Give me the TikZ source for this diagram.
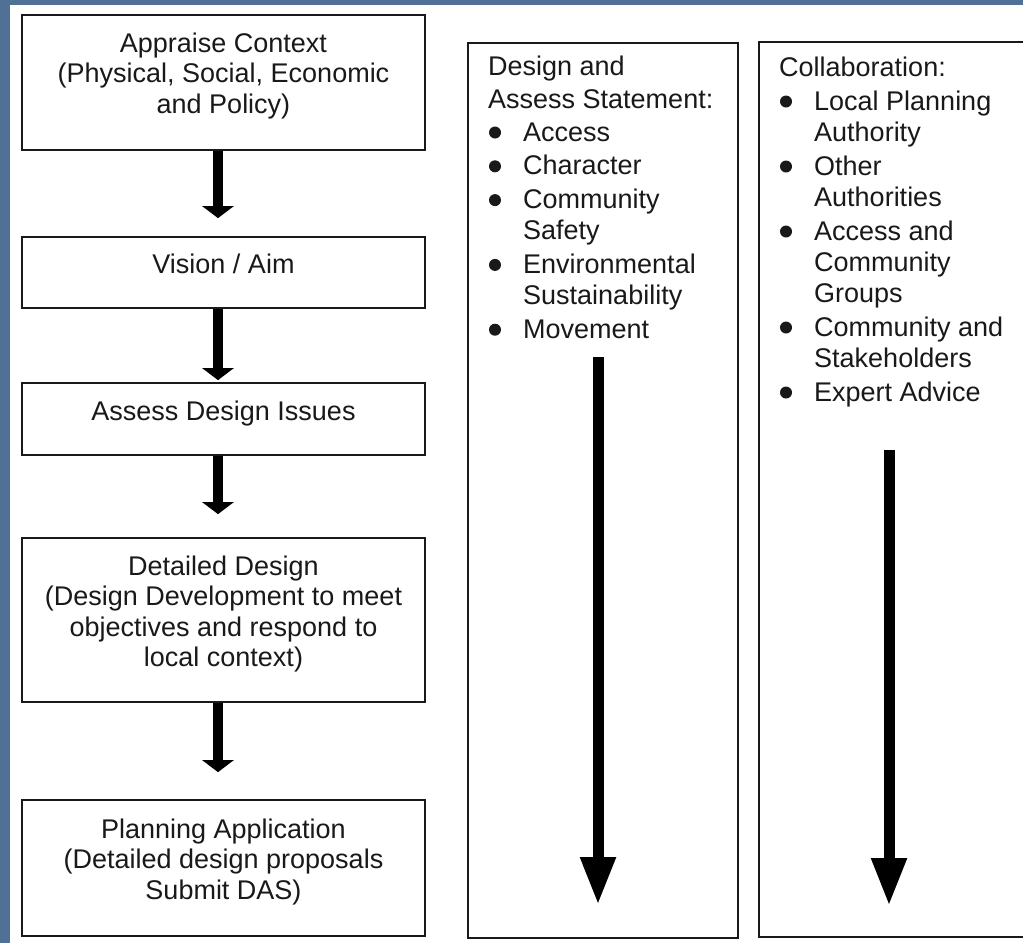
\documentclass[tikz,border=0pt]{standalone}
\usepackage{fontspec}
\setmainfont{Liberation Sans}
\usetikzlibrary{arrows.meta}
\definecolor{frameblue}{RGB}{80,112,150}
\definecolor{ink}{RGB}{25,25,25}
% hanging indent for the list columns (the bullets are drawn as dots)
\newcommand\hangline{\hspace*{35pt}}
\newcommand\stagefont{\fontsize{27}{30.6}\selectfont}
\newcommand\colfont{\fontsize{27}{31}\selectfont}
\begin{document}
\begin{tikzpicture}[x=1pt,y=-1pt,
  stagebox/.style={draw=ink, line width=1.7pt, minimum width=403pt, inner sep=0pt},
  colbox/.style={draw=ink, line width=1.7pt, inner sep=0pt},
  stagetext/.style={anchor=base, inner sep=0pt, text=ink},
  coltext/.style={anchor=base west, inner sep=0pt, text=ink},
  listdot/.style={fill=ink},
  flowarrow/.style={draw=black, line width=10pt, -{Triangle[width=31pt,length=12pt]}},
  longarrow/.style={draw=black, line width=11pt, -{Triangle[width=33pt,length=48pt]}}]
\useasboundingbox (0,0) rectangle (1023,943);
% page background with blue frame on the left and top
\fill[frameblue] (0,0) rectangle (1023,943);
\fill[white] (10,5) rectangle (1023,943);
\clip (0,0) rectangle (1023,943);

% process stages on the left
\node[stagebox, minimum height=135pt] (b1) at (223.5,82.5) {};
\node[stagebox, minimum height=71pt]  (b2) at (223.5,272.5) {};
\node[stagebox, minimum height=72pt]  (b3) at (223.5,419) {};
\node[stagebox, minimum height=164pt] (b4) at (223.5,620) {};
\node[stagebox, minimum height=136pt] (b5) at (223.5,868) {};

\node[stagetext] (t1) at (223.5,52) {\parbox[t]{395pt}{\stagefont\centering Appraise Context\\(Physical, Social, Economic\\and Policy)}};
\node[stagetext] (t2) at (223.5,273) {\parbox[t]{395pt}{\stagefont\centering Vision / Aim}};
\node[stagetext] (t3) at (223.5,420) {\parbox[t]{395pt}{\stagefont\centering Assess Design Issues}};
\node[stagetext] (t4) at (223.5,575) {\parbox[t]{395pt}{\stagefont\centering Detailed Design\\(Design Development to meet\\objectives and respond to\\local context)}};
\node[stagetext] (t5) at (223.5,838) {\parbox[t]{395pt}{\stagefont\centering Planning Application\\(Detailed design proposals\\Submit DAS)}};

% arrows between stages
\draw[flowarrow] ([xshift=-5.5pt]b1.south) -- ([xshift=-5.5pt,yshift=18pt]b2.north);
\draw[flowarrow] ([xshift=-5.5pt]b2.south) -- ([xshift=-5.5pt,yshift=2pt]b3.north);
\draw[flowarrow] ([xshift=-5.5pt]b3.south) -- ([xshift=-5.5pt,yshift=23pt]b4.north);
\draw[flowarrow] ([xshift=-5.5pt]b4.south) -- ([xshift=-5.5pt,yshift=27pt]b5.north);

% design and access statement column
\node[colbox, minimum width=270pt, minimum height=895pt] (das) at (603,490.5) {};
\node[coltext] (dastext) at (488,75.7) {\parbox[t]{245pt}{\colfont\raggedright
Design and\\[1.6pt]
Assess Statement:\\[1.7pt]
\hangline Access\\[2.8pt]
\hangline Character\\[2.8pt]
\hangline Community\\
\hangline Safety\\[2.8pt]
\hangline Environmental\\
\hangline Sustainability\\[2.8pt]
\hangline Movement}};
\foreach \by in {141,174.8,208.6,273.4,338.2}
  \fill[listdot] (495,\by-8.5) circle[radius=6pt];
\coordinate (dastop) at (598,357);
\coordinate (dasbottom) at (598,905);
\draw[longarrow] (dastop) -- (dasbottom);

% collaboration column
\node[colbox, minimum width=281pt, minimum height=895pt] (collab) at (899.5,489.5) {};
\node[coltext] (collabtext) at (779,76) {\parbox[t]{245pt}{\colfont\raggedright
Collaboration:\\[3pt]
\hangline Local Planning\\
\hangline Authority\\[3pt]
\hangline Other\\
\hangline Authorities\\[3pt]
\hangline Access and\\
\hangline Community\\
\hangline Groups\\[3pt]
\hangline Community and\\
\hangline Stakeholders\\[3pt]
\hangline Expert Advice}};
\foreach \by in {110,175,240,336,401}
  \fill[listdot] (786,\by-8.5) circle[radius=6pt];
\coordinate (collabtop) at (889,450);
\coordinate (collabbottom) at (889,906);
\draw[longarrow] (collabtop) -- (collabbottom);
\end{tikzpicture}
\end{document}
